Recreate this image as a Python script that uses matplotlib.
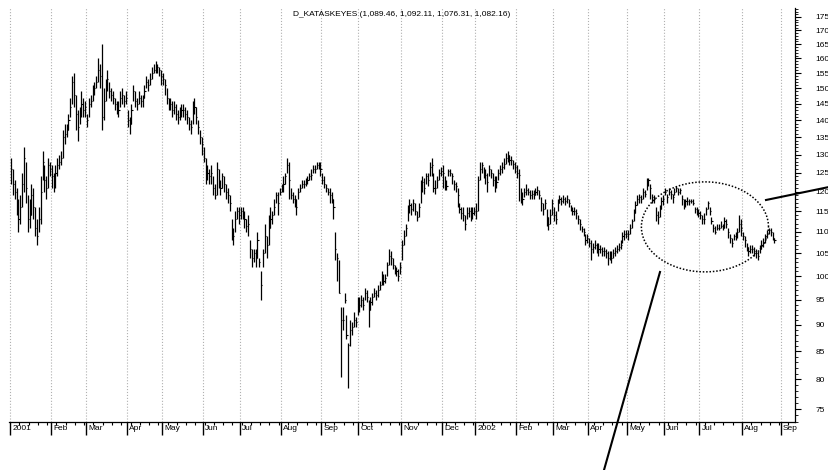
import numpy as np
import matplotlib
matplotlib.use("Agg")
import matplotlib.pyplot as plt
import matplotlib.ticker as mticker
import matplotlib.transforms as mtransforms
from matplotlib.lines import Line2D

plt.rcParams["font.family"] = ["Liberation Sans", "DejaVu Sans"]

TITLE = "D_KATASKEYES (1,089.46, 1,092.11, 1,076.31, 1,082.16)"

# month labels and trading days per month (Jan 2001 .. Aug 2002, then Sep 2002 start)
month_labels = ["2001", "Feb", "Mar", "Apr", "May", "Jun", "Jul", "Aug", "Sep",
                "Oct", "Nov", "Dec", "2002", "Feb", "Mar", "Apr", "May", "Jun",
                "Jul", "Aug", "Sep"]
month_days = [22, 19, 22, 19, 22, 20, 22, 22, 20, 23, 22, 18,
              22, 20, 19, 21, 20, 19, 23, 21]

# daily closes
close = [
    126, 122, 120, 117, 113, 116, 122, 129, 121, 113, 114, 119, 116, 111, 109, 113, 120, 128, 123, 121, 127, 126,  # Jan 01
    124, 122, 125, 127, 128, 129, 135, 136, 137, 140, 144, 152, 148, 142, 138, 142, 145, 143, 144,  # Feb
    140, 145, 146, 149, 150, 152, 156, 154, 141, 146, 150, 153, 149, 148, 147, 145, 144, 143, 147, 148, 146, 147,  # Mar
    140, 139, 143, 149, 146, 145, 147, 146, 147, 149, 152, 151, 153, 155, 156, 157, 157, 156, 154,  # Apr
    153, 151, 147, 145, 145, 143, 144, 142, 141, 142, 143, 143, 142, 141, 139, 138, 143, 144, 141, 138, 135, 133,  # May
    129, 124, 125, 124, 125, 121, 119, 126, 122, 121, 124, 122, 120, 119, 117, 110, 109, 113, 115, 114,  # Jun
    115, 114, 113, 111.5, 112, 106, 104, 105, 104, 108, 103, 98, 105, 109, 107, 111, 113, 114, 116, 119, 117, 120,  # Jul
    121, 122, 124, 127, 123, 119, 118, 118, 116, 120, 121, 122, 122, 122.5, 123, 124, 124.5, 126, 126, 127, 127, 126,  # Aug
    123, 122, 121, 120, 119, 118, 116, 106, 104, 96.5, 91, 91, 95, 88, 86.2, 89, 89.5, 91, 90.5, 94,  # Sep
    94, 95, 94, 96.5, 95.5, 93, 94.5, 95.5, 96.5, 96, 97, 98, 100, 99, 99.5, 102.5, 104.5, 104, 102.5, 101.5, 101, 100, 102,  # Oct
    107, 109, 111, 115, 116.5, 115.5, 117, 115, 113.5, 116, 121, 122.5, 121, 124, 123, 126.5, 127, 121, 121, 123, 125, 125.5,  # Nov
    125, 122, 121.5, 125.5, 125, 124, 122, 121.5, 119, 115.5, 114.5, 114, 112, 114.5, 115, 114, 114.5, 115,  # Dec
    115, 123, 126, 127, 125, 124.5, 122.5, 126, 125, 123, 122, 122.5, 125, 126, 126.5, 127.5, 129, 130, 128.5, 128.5, 127.5, 126.5,  # Jan 02
    125, 124.5, 118.5, 118, 120, 120.5, 120, 119, 119.5, 119, 120, 120.5, 119, 117, 115.5, 117, 113.5, 112, 114, 117,  # Feb
    114, 113, 117, 118, 117.5, 118, 117.5, 118, 117, 115.5, 115, 115, 114.5, 113, 112, 110.8, 110, 108, 108.5,  # Mar
    107.5, 106, 106.5, 107, 106, 106, 106, 105.5, 105.5, 105, 104, 104.5, 104, 105, 105.5, 106, 106.5, 107, 109, 109.5, 109.5,  # Apr
    109.5, 111, 112.5, 114.5, 116.5, 118, 118.5, 118, 120, 119.5, 122.5, 123, 121, 118.5, 118, 114, 113.5, 115.5, 117.5, 118,  # May
    120, 118.5, 120, 119.5, 118.5, 120, 121, 120, 120.5, 118, 117, 117.5, 117.5, 117.5, 117.5, 117, 115.5, 115, 114.5,  # Jun
    114, 113, 113, 115.5, 117, 115, 112.5, 111, 110, 111, 111, 111.5, 111, 112.5, 112, 110, 108.5, 107.5, 109, 109, 110, 112, 111,  # Jul
    109, 108, 106.5, 105.5, 106, 106, 105.5, 105, 104.5, 106, 107, 107.5, 108.5, 109.5, 110.5, 110, 108.5, 108,  # Aug
]

high = [
    129, 126, 123, 121, 118, 119, 125, 132, 128, 119, 118, 122, 121, 116, 113, 116, 124, 131, 127, 124, 129, 128,
    127, 125, 127, 129, 130, 131, 137, 139, 139, 142, 147, 154, 155, 148, 143, 144, 149, 147, 146,
    142, 147, 148, 151, 152, 154, 160, 158, 165, 150, 153, 156, 152, 150, 149, 147, 146, 146, 149, 150, 148, 149,
    143, 141, 145, 151, 149, 147, 149, 148, 148, 151, 154, 153, 155, 157, 158, 159, 158, 157, 156,
    155, 153, 150, 147, 147, 146, 146, 145, 143, 144, 145, 145, 144, 143, 141, 140, 146, 147, 144, 140, 137, 135,
    132, 129, 127, 126, 127, 124, 122, 128, 126, 123, 125, 124, 122, 121, 119, 113, 111, 115, 116, 116,
    116, 116, 115, 113, 114, 108, 106, 106, 106, 110, 104, 101, 106, 112, 109, 114, 116, 115, 118, 120, 120, 121,
    122, 124, 125, 129, 128, 121, 120, 119, 118, 121, 122, 123, 123, 123.5, 124, 125, 126, 127, 127, 128, 128, 128,
    125, 124, 122, 121, 121, 120, 118, 110, 105, 103.5, 93.5, 93.5, 96.5, 92, 86.5, 91, 90.5, 92.5, 91.5, 95.5,
    95.5, 96, 95.5, 97.5, 97, 95, 95.5, 96.5, 97.5, 97, 98, 99, 101, 100.5, 100.5, 103, 106, 105.5, 104, 102.5, 102, 101.5, 103,
    108, 110.5, 112, 116.5, 118, 117, 118, 117, 115, 117, 123, 124, 123.5, 125, 125, 128, 129, 125, 123, 124, 126, 126.5,
    127, 124, 123, 126, 126, 125, 123, 122.5, 121, 117, 116, 116, 114, 116, 116, 116, 116, 116,
    117, 124, 128, 128, 126.5, 126, 125, 127, 126, 125, 124, 124, 126, 127, 128, 129, 130.5, 131, 130, 129.5, 128.5, 128,
    127, 126, 121, 120, 121, 122, 121, 120.5, 120.5, 120.5, 121, 121.5, 120.5, 118.5, 117, 118, 115.5, 113.5, 115.5, 118,
    116, 115, 118, 119, 118.5, 119, 118.5, 119, 118, 116.5, 116, 116, 115.5, 114, 113, 111.5, 111, 109.5, 109.5,
    108.5, 108, 107.5, 108, 107.5, 107.5, 107, 106.5, 106.5, 106, 105.5, 105.5, 105.5, 106, 106.5, 107, 107.5, 108, 110, 110.5, 110.5,
    110.5, 112, 113, 115.5, 117.5, 119, 119.5, 119, 121, 120.5, 123.5, 123.5, 122, 119.5, 119, 116, 115, 116.5, 118.5, 119,
    121, 119.5, 121, 120.5, 119.5, 121, 121.5, 121, 121, 119, 118, 118, 118.5, 118, 118, 118, 116, 116, 115.5,
    115, 114, 114.5, 116, 117.5, 116, 113.5, 112, 111.5, 112, 112, 112.5, 112, 113.5, 113, 111, 109.5, 108.5, 109.5, 110, 111, 114, 113,
    110, 109, 107.5, 106.5, 107, 107, 106.5, 106, 105.5, 107, 108, 108.5, 109.5, 110.5, 111, 111, 110, 108.5,
]

low = [
    122, 119, 118, 114, 110, 112, 116, 120, 117, 110, 111, 114, 113, 109, 107, 110, 112, 123, 120, 118, 121, 124,
    121, 120, 121, 124, 126, 127, 129, 133, 135, 137, 141, 145, 144, 137, 134, 139, 141, 141, 141,
    138, 141, 144, 146, 148, 150, 152, 150, 137, 140, 146, 149, 147, 146, 145, 143, 142, 141, 144, 145, 144, 145,
    138, 136, 139, 146, 144, 143, 145, 144, 144, 147, 150, 149, 151, 153, 155, 155, 155, 154, 151,
    151, 148, 145, 143, 143, 141, 142, 140, 139, 140, 141, 141, 140, 139, 137, 136, 139, 142, 139, 136, 133, 130,
    128, 122, 123, 122, 122, 119, 118, 119, 121, 119, 121, 120, 118, 117, 115, 108, 107, 110, 113, 112,
    113, 113, 111, 110, 109, 104, 102, 103, 102, 104, 102, 95, 102, 105, 104, 107, 111, 112, 114, 117, 114, 119,
    120, 120, 122, 125, 118, 118, 117, 116, 114, 118, 120, 121, 121, 121.5, 122, 123, 123, 125, 125, 126, 126, 124,
    122, 121, 120, 119, 117, 117, 113, 103.5, 99, 96.3, 80.4, 89, 94.3, 87.3, 78.5, 86, 88, 89.5, 89.5, 92,
    92.5, 93.5, 93, 95, 94.5, 89.5, 93, 94, 95.5, 95, 95.5, 97, 98, 98, 98.5, 100, 102.5, 102.5, 101.5, 100.5, 100, 99, 100.5,
    103.5, 107, 109, 112.5, 114.5, 114, 115, 114, 112.5, 113.5, 117, 120, 119.5, 122, 121.5, 124, 124, 120, 119.5, 121, 123, 124,
    121, 120.5, 120.5, 124, 124, 122, 120.5, 120, 116, 114.5, 113, 112.5, 110.5, 113, 113.5, 112.5, 113, 114,
    113, 115, 123, 125, 123.5, 122, 120, 124, 123.5, 121.5, 120, 121, 123, 124.5, 125, 126, 127.5, 128, 127, 127, 126, 125,
    123.5, 117.5, 117, 116.5, 118.5, 119, 119, 118, 118, 118, 119, 119, 118, 115, 114, 115.5, 111.5, 110.5, 112, 114,
    112.5, 112, 115, 117, 116.5, 117, 116.5, 117, 116, 115, 114, 114, 113, 112, 110.5, 110, 109, 107, 107.5,
    106.5, 103.5, 105, 106, 105, 104.5, 105, 104.5, 104.5, 104, 102.5, 103.5, 102.8, 104, 104.5, 105, 105.5, 106, 107.5, 108, 108.5,
    108, 109.5, 111, 112.5, 114.5, 116.5, 117, 117, 118, 118.5, 120.5, 121.5, 118, 117, 117, 112.5, 112, 113.5, 115.5, 116.5,
    119, 117, 119, 118, 117, 119, 120, 119, 119.5, 116.5, 115.5, 116, 116.5, 116.5, 117, 116.5, 114.5, 114, 113.5,
    113, 112, 112, 114, 115.5, 114, 112, 110, 109.5, 110.5, 110.5, 111, 110.5, 111, 111, 108.5, 107.5, 106.5, 108, 108, 108.5, 110, 109,
    108, 106.5, 105.5, 104.5, 105, 105, 104.5, 104, 103.5, 105, 106, 106.5, 107.5, 108.5, 109.5, 109, 108, 107.5,
]

yticks = list(range(75, 180, 5))

W, H = 829, 470
fig = plt.figure(figsize=(W / 100, H / 100), dpi=100)
ax = fig.add_axes([9 / W, 1 - 422 / H, 786 / W, 414 / H])

idx = np.arange(len(close))
ax.vlines(idx, low, high, color="black", lw=0.9)
ax.hlines(close, idx, idx + 0.6, color="black", lw=0.8)

ax.set_yscale("log")
ax.set_ylim(72.96, 178.4)
ax.set_xlim(-1.08, 423.1)

# x axis: month ticks + weekly minor ticks
starts = np.concatenate([[0], np.cumsum(month_days)]) - 0.5
ax.set_xticks(starts)
ax.set_xticklabels(month_labels)
minor = [i - 0.5 for i in range(5, 421, 5) if not np.any(np.isclose(starts, i - 0.5))]
ax.set_xticks(minor, minor=True)
ax.tick_params(axis="x", which="major", direction="out", length=9.5, width=1.0,
               labelsize=6, pad=-7)
ax.tick_params(axis="x", which="minor", direction="out", length=2.2, width=0.8)
offset = mtransforms.ScaledTranslation(1.5 / 72, 0, fig.dpi_scale_trans)
for lbl in ax.get_xticklabels():
    lbl.set_horizontalalignment("left")
    lbl.set_transform(lbl.get_transform() + offset)

# y axis on the right, log scale
ax.yaxis.tick_right()
ax.yaxis.set_major_locator(mticker.FixedLocator(yticks))
ax.yaxis.set_major_formatter(mticker.FixedFormatter([str(v) for v in yticks]))
ax.yaxis.set_minor_locator(mticker.FixedLocator([v for v in range(73, 179) if v % 5]))
ax.yaxis.set_minor_formatter(mticker.NullFormatter())
ax.tick_params(axis="y", which="major", direction="out", length=4, width=0.8,
               labelsize=6, pad=11)
ax.tick_params(axis="y", which="minor", direction="out", length=2, width=0.6)

for s in ("left", "top"):
    ax.spines[s].set_visible(False)
ax.spines["right"].set_linewidth(0.9)
ax.spines["bottom"].set_linewidth(0.9)

ax.grid(axis="x", which="major", linestyle=":", color="#b0b0b0", lw=0.8)
ax.set_axisbelow(True)

fig.text(402 / W, 1 - 15 / H, TITLE, ha="center", va="center", fontsize=6)

# dotted ellipse around the recent range
t = np.linspace(0, 2 * np.pi, 300)
ax.plot(374.5 + 34.3 * np.cos(t), 111.2 * np.exp(0.0972 * np.sin(t)),
        color="black", lw=1.1, linestyle=(0, (1, 1.2)))

# annotation strokes
fig.add_artist(Line2D([766 / W, 829 / W], [1 - 200 / H, 1 - 187 / H],
                      transform=fig.transFigure, color="black", lw=1.5))
fig.add_artist(Line2D([660 / W, 604 / W], [1 - 272 / H, 1 - 470 / H],
                      transform=fig.transFigure, color="black", lw=1.5))

fig.savefig("out.png", dpi=100)
